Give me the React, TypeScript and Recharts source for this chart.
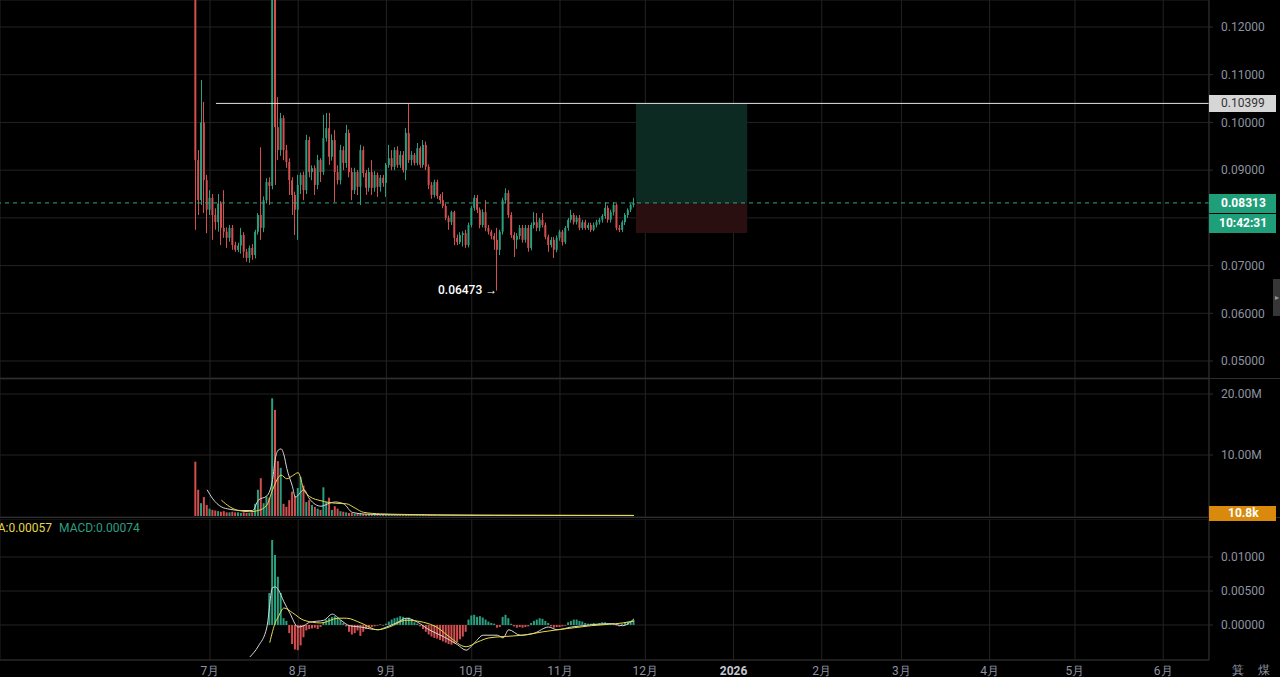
import { Bar, Cell, ComposedChart, CartesianGrid, Line, ReferenceArea, ReferenceLine, XAxis, YAxis } from "recharts";

// x axis: day index, 0 = 1 Jul 2025
const monthTicks = [0, 31, 62, 92, 123, 153, 184, 215, 243, 274, 304, 335];
const monthLabels = ["7月", "8月", "9月", "10月", "11月", "12月", "2026", "2月", "3月", "4月", "5月", "6月"];

const priceTicks = [0.05, 0.06, 0.07, 0.08, 0.09, 0.1, 0.11, 0.12];
const volumeTicks = [10e6, 20e6];
const macdTicks = [0, 0.005, 0.01];

// daily candles [open, high, low, close], first one on day -5 (26 Jun)
const firstDay = -5;
const candles = [
  [0.14, 0.15, 0.0775, 0.0921], [0.0921, 0.0942, 0.0806, 0.0837], [0.0837, 0.1089, 0.0827, 0.1], [0.1, 0.1043, 0.081, 0.0879], [0.0879, 0.089, 0.0768, 0.0817],
  [0.0817, 0.0858, 0.0806, 0.0842], [0.0842, 0.085, 0.0754, 0.0806], [0.0806, 0.082, 0.0775, 0.0791], [0.0791, 0.085, 0.0771, 0.083], [0.083, 0.0835, 0.0743, 0.0779],
  [0.0779, 0.0858, 0.0758, 0.0771], [0.0771, 0.078, 0.0737, 0.0758], [0.0758, 0.0785, 0.075, 0.0779], [0.0779, 0.0785, 0.0733, 0.0743], [0.0743, 0.075, 0.0729, 0.0733],
  [0.0733, 0.0748, 0.0728, 0.0742], [0.0742, 0.0779, 0.0725, 0.0764], [0.0764, 0.077, 0.0716, 0.0729], [0.0729, 0.0735, 0.0708, 0.0716], [0.0716, 0.0742, 0.0706, 0.0737], [0.0737, 0.0745, 0.0712, 0.0722],
  [0.0722, 0.0775, 0.0715, 0.0771], [0.0771, 0.081, 0.0765, 0.0806], [0.0806, 0.0948, 0.0754, 0.0779], [0.0779, 0.0845, 0.077, 0.0837], [0.0837, 0.0883, 0.083, 0.0875],
  [0.0875, 0.0885, 0.0827, 0.0867], [0.0867, 0.145, 0.086, 0.135], [0.132, 0.14, 0.0869, 0.099], [0.099, 0.1053, 0.0921, 0.0942], [0.0942, 0.102, 0.093, 0.1009],
  [0.1009, 0.1015, 0.0921, 0.0942], [0.0942, 0.0953, 0.0905, 0.0917], [0.0917, 0.0925, 0.0848, 0.0879], [0.0879, 0.0885, 0.0806, 0.0848], [0.0848, 0.0855, 0.0764, 0.0817],
  [0.0817, 0.089, 0.0754, 0.0869], [0.0869, 0.0895, 0.085, 0.089], [0.089, 0.0897, 0.0837, 0.0858], [0.0858, 0.0974, 0.085, 0.0963], [0.0963, 0.097, 0.0885, 0.0896],
  [0.0896, 0.091, 0.0879, 0.0904], [0.0904, 0.091, 0.0848, 0.0869], [0.0869, 0.0932, 0.086, 0.0921], [0.0921, 0.0925, 0.0875, 0.0896], [0.0896, 0.1016, 0.089, 0.0967],
  [0.0967, 0.102, 0.096, 0.0988], [0.0988, 0.102, 0.0911, 0.0928], [0.0928, 0.0975, 0.092, 0.0963], [0.0963, 0.0984, 0.0833, 0.0896], [0.0896, 0.091, 0.087, 0.0879],
  [0.0879, 0.0953, 0.087, 0.0942], [0.0942, 0.095, 0.09, 0.0915], [0.0915, 0.0995, 0.0905, 0.0978], [0.0978, 0.0985, 0.0885, 0.0896], [0.0896, 0.0905, 0.0837, 0.0858],
  [0.0858, 0.0905, 0.085, 0.0896], [0.0896, 0.09, 0.0848, 0.0865], [0.0865, 0.0953, 0.0827, 0.0942], [0.0942, 0.095, 0.0885, 0.0894], [0.0894, 0.09, 0.0848, 0.0863],
  [0.0863, 0.0905, 0.0855, 0.0896], [0.0896, 0.0921, 0.0848, 0.0863], [0.0863, 0.0898, 0.0855, 0.089], [0.089, 0.0895, 0.0844, 0.0865], [0.0865, 0.089, 0.0855, 0.0884],
  [0.0884, 0.089, 0.0865, 0.0873], [0.0873, 0.0915, 0.0844, 0.0911], [0.0911, 0.0953, 0.0905, 0.0925], [0.0925, 0.0942, 0.09, 0.0907], [0.0907, 0.0948, 0.09, 0.0942],
  [0.0942, 0.095, 0.0905, 0.0911], [0.0911, 0.094, 0.0905, 0.0932], [0.0932, 0.094, 0.0895, 0.09], [0.09, 0.0988, 0.0879, 0.0978], [0.0978, 0.10399, 0.0915, 0.0921],
  [0.0921, 0.094, 0.091, 0.0932], [0.0932, 0.0936, 0.091, 0.0915], [0.0915, 0.0957, 0.091, 0.0946], [0.0946, 0.095, 0.0905, 0.0911], [0.0911, 0.0963, 0.0905, 0.0953],
  [0.0953, 0.096, 0.09, 0.0907], [0.0907, 0.0912, 0.086, 0.0869], [0.0869, 0.0875, 0.084, 0.0848], [0.0848, 0.088, 0.0843, 0.0875], [0.0875, 0.088, 0.084, 0.0846],
  [0.0846, 0.085, 0.083, 0.0837], [0.0837, 0.0854, 0.082, 0.0825], [0.0825, 0.083, 0.0795, 0.08], [0.08, 0.0805, 0.0775, 0.0791], [0.0791, 0.0815, 0.0785, 0.0812],
  [0.0812, 0.0815, 0.0743, 0.0758], [0.0758, 0.0765, 0.0743, 0.0749], [0.0749, 0.077, 0.0745, 0.0764], [0.0764, 0.0772, 0.074, 0.0768],
  [0.0768, 0.0775, 0.0737, 0.0743], [0.0743, 0.079, 0.0738, 0.0785], [0.0785, 0.0825, 0.078, 0.0821], [0.0821, 0.0848, 0.0815, 0.0842], [0.0842, 0.0848, 0.081, 0.0817],
  [0.0817, 0.0822, 0.0778, 0.0785], [0.0785, 0.0818, 0.078, 0.0812], [0.0812, 0.0837, 0.0772, 0.0779], [0.0779, 0.0785, 0.0765, 0.0771], [0.0771, 0.0775, 0.0755, 0.0762],
  [0.0762, 0.0768, 0.0733, 0.0754], [0.0754, 0.0779, 0.06473, 0.0733], [0.0733, 0.0775, 0.0722, 0.0771], [0.0771, 0.0842, 0.0765, 0.0837], [0.0837, 0.0862, 0.083, 0.0852],
  [0.0852, 0.0858, 0.08, 0.0806], [0.0806, 0.0812, 0.0758, 0.0764], [0.0764, 0.077, 0.0718, 0.0754], [0.0754, 0.0768, 0.0735, 0.0762], [0.0762, 0.0785, 0.0755, 0.0779],
  [0.0779, 0.0785, 0.0748, 0.0754], [0.0754, 0.0785, 0.0748, 0.0779], [0.0779, 0.0785, 0.0729, 0.0737], [0.0737, 0.079, 0.0732, 0.0785], [0.0785, 0.0812, 0.0778, 0.0791],
  [0.0791, 0.081, 0.0772, 0.0779], [0.0779, 0.08, 0.0772, 0.0796], [0.0796, 0.081, 0.078, 0.0785], [0.0785, 0.079, 0.0755, 0.076], [0.076, 0.0765, 0.0729, 0.0743],
  [0.0743, 0.076, 0.0738, 0.0754], [0.0754, 0.076, 0.0716, 0.0733], [0.0733, 0.0763, 0.0728, 0.0758], [0.0758, 0.0775, 0.0752, 0.0771], [0.0771, 0.0775, 0.0742, 0.0749],
  [0.0749, 0.0783, 0.0745, 0.0779], [0.0779, 0.08, 0.0773, 0.0796], [0.0796, 0.0817, 0.079, 0.0806], [0.0806, 0.081, 0.0786, 0.0791], [0.0791, 0.0805, 0.0786, 0.08],
  [0.08, 0.0806, 0.0774, 0.0779], [0.0779, 0.0796, 0.0775, 0.0791], [0.0791, 0.0796, 0.0775, 0.0779], [0.0779, 0.079, 0.0775, 0.0785], [0.0785, 0.079, 0.077, 0.0775],
  [0.0775, 0.079, 0.0772, 0.0785], [0.0785, 0.0796, 0.078, 0.0791], [0.0791, 0.08, 0.0786, 0.0796], [0.0796, 0.0808, 0.079, 0.0804], [0.0804, 0.0833, 0.0798, 0.0821],
  [0.0821, 0.0826, 0.079, 0.0796], [0.0796, 0.0817, 0.079, 0.0812], [0.0812, 0.0833, 0.0805, 0.0827], [0.0827, 0.083, 0.0774, 0.0779], [0.0779, 0.0785, 0.077, 0.0775],
  [0.0775, 0.0795, 0.077, 0.0791], [0.0791, 0.081, 0.0785, 0.0806], [0.0806, 0.082, 0.08, 0.0817], [0.0817, 0.083, 0.0812, 0.0827], [0.0827, 0.0842, 0.0822, 0.08313],
];

// volume per day, millions
const volumes = [
  8.9, 4.3, 2.1, 3.1, 1.8, 1.2, 1.0, 0.9, 0.8, 0.7,
  0.8, 0.6, 0.6, 0.7, 0.6, 0.6, 0.5, 0.6, 0.5, 0.5, 0.6,
  2.0, 4.3, 6.2, 2.1, 3.2, 3.0, 19.3, 17.4, 9.0, 7.9,
  2.0, 1.5, 2.6, 4.0, 3.3, 4.6, 6.4, 5.0, 2.3, 2.6,
  1.8, 1.5, 1.2, 1.0, 4.7, 2.3, 3.0, 1.0, 1.6, 1.2,
  0.8, 0.7, 0.6, 0.5, 0.5, 0.4, 0.4, 0.5, 0.3, 0.3,
  0.3, 0.25, 0.25, 0.2, 0.2, 0.2, 0.18, 0.22, 0.15, 0.18,
  0.16, 0.15, 0.14, 0.2, 0.25, 0.14, 0.12, 0.13, 0.12, 0.14,
  0.12, 0.15, 0.13, 0.11, 0.1, 0.1, 0.09, 0.12, 0.11, 0.09,
  0.13, 0.1, 0.08, 0.08, 0.1, 0.12, 0.11, 0.1, 0.08,
  0.09, 0.08, 0.1, 0.07, 0.07, 0.08, 0.15, 0.1, 0.12, 0.09,
  0.08, 0.07, 0.09, 0.06, 0.06, 0.07, 0.06, 0.07, 0.06, 0.07,
  0.05, 0.06, 0.05, 0.06, 0.07, 0.05, 0.06, 0.05, 0.05, 0.04,
  0.05, 0.06, 0.05, 0.04, 0.04, 0.05, 0.04, 0.04, 0.03, 0.04,
  0.03, 0.04, 0.03, 0.03, 0.05, 0.04, 0.03, 0.04, 0.04, 0.03,
  0.03, 0.04, 0.03, 0.03, 0.0108,
];

// volume moving averages, [day, millions]
const volFastPts = [
  [-1, 4.3], [1, 2.8], [4, 1.5], [7, 1.1], [11, 0.9], [15, 0.9], [17, 2.6], [20, 3.3], [22, 6.0], [23, 9.5],
  [24, 10.8], [25, 11.0], [26, 10.0], [27, 7.8], [29, 4.8], [30, 3.1], [33, 4.3], [35, 2.8], [39, 1.6], [42, 2.1],
  [44, 2.3], [47, 2.0], [50, 0.6], [55, 0.3], [65, 0.2], [80, 0.15], [100, 0.1], [149, 0.07],
];
const volSlowPts = [
  [4, 2.6], [7, 1.5], [10, 0.9], [14, 0.7], [17, 0.9], [20, 1.8], [22, 4.3], [25, 6.7], [27, 6.1], [29, 6.6],
  [31, 7.1], [33, 4.3], [35, 3.2], [39, 2.5], [44, 2.1], [48, 2.0], [51, 1.3], [54, 0.6], [60, 0.35], [70, 0.25],
  [90, 0.15], [149, 0.1],
];

// MACD histogram per day from day 21
const histStart = 21;
const macdHist = [
  0.0047, 0.0125, 0.0103, 0.0071, 0.0047, 0.001, 0.0006, -0.0012, -0.0028, -0.0036,
  -0.0037, -0.003, -0.0018, -0.0008, -0.0006, -0.0005, -0.0004, -0.0006, -0.0003, 0.0004,
  0.0008, 0.001, 0.0012, 0.0013, 0.0011, 0.0007, 0.0003, -0.0002, -0.001, -0.0014,
  -0.0012, -0.0008, -0.0016, -0.001, -0.0006, -0.0004, -0.0003, -0.0002, -0.0001, 0.0001,
  -0.0001, 0.0002, 0.0005, 0.0008, 0.001, 0.0011, 0.0013, 0.0012, 0.001, 0.0011,
  0.0008, 0.0004, 0.0002, -0.0002, -0.0006, -0.001, -0.0014, -0.0017, -0.0019, -0.002,
  -0.0022, -0.0024, -0.0026, -0.0028, -0.0029, -0.0027, -0.0025, -0.0021, -0.0017,
  -0.001, 0.0008, 0.0014, 0.0015, 0.0012, 0.0013, 0.0011, 0.0008, 0.0005, 0.0003,
  0.0002, -0.0004, -0.0003, 0.0012, 0.0015, 0.001, 0.0002, -0.0002, -0.0004, -0.0003,
  -0.0004, -0.0003, -0.0002, 0.0003, 0.0006, 0.0008, 0.001, 0.0009, 0.0006, 0.0003,
  -0.0002, -0.0004, -0.0003, -0.0003, -0.0002, -0.0001, 0.0004, 0.0006, 0.0008, 0.0008,
  0.0006, 0.0005, 0.0003, 0.0002, 0.0002, 0.0003, 0.0002, 0.0003, 0.0004, 0.0004,
  0.0002, 0.0001, 0.0002, -0.0001, -0.0002, 0.0002, 0.0004, 0.0005, 0.0006, 0.00074,
];

const difPts = [
  [14, -0.0047], [17, -0.0031], [20, -0.0003], [22, 0.0055], [23, 0.0056], [24, 0.0052], [26, 0.0034], [28, 0.0018], [31, -0.0003], [33, -0.0001],
  [35, 0.0004], [40, 0.0007], [43, 0.0016], [46, 0.0007], [49, -0.0001], [53, -0.0003], [59, -0.0007], [62, -0.0003], [66, 0.0004], [69, 0.001],
  [73, 0.0004], [77, -0.0007], [82, -0.0017], [87, -0.0029], [90, -0.0037], [93, -0.0026], [96, -0.0015], [101, -0.0015], [103, -0.0019], [105, -0.0007],
  [109, -0.0015], [114, -0.0012], [119, -0.0003], [122, -0.0007], [127, -0.0003], [131, -0.0001], [141, 0.0002], [145, -0.0001], [149, 0.0009],
];
const deaPts = [
  [21, -0.0026], [23, 0.0004], [24, 0.0012], [26, 0.0025], [29, 0.0018], [33, 0.0007], [39, 0.0003], [45, 0.001], [48, 0.001], [53, 0.0003],
  [59, -0.0007], [63, -0.0003], [69, 0.0007], [75, 0.0004], [80, -0.0004], [84, -0.0017], [90, -0.0032], [94, -0.0025], [98, -0.0019], [103, -0.0017],
  [110, -0.0015], [117, -0.001], [128, -0.0004], [134, -0.0001], [140, 0.0001], [145, 0.0003], [149, 0.00057],
];

const UP = "#2a9e7e";
const DOWN = "#d34f4f";
const GRID = "#232323";
const AXIS = "#8d92a0";
const X_MIN = -73.8;
const X_MAX = 351.1;

const rows: any[] = candles.map(([o, h, l, c], i) => {
  const d = firstDay + i;
  return {
    d, o, h, l, c,
    range: [l, h],
    vol: volumes[i] * 1e6,
    hist: d >= histStart ? macdHist[d - histStart] : null,
  };
});
const putPoints = (pts: number[][], key: string, scale: number) => {
  pts.forEach(([d, v]) => {
    rows[d - firstDay][key] = v * scale;
  });
};
putPoints(volFastPts, "volFast", 1e6);
putPoints(volSlowPts, "volSlow", 1e6);
putPoints(difPts, "dif", 1);
putPoints(deaPts, "dea", 1);

const Candle = (props: any) => {
  const { x, y, width, height, payload } = props;
  if (!payload || payload.o == null) return null;
  const { o, h, l, c } = payload;
  const top = Math.min(y, y + height);
  const span = Math.abs(height);
  const toY = (v: number) => top + ((h - v) / (h - l)) * span;
  const color = c >= o ? UP : DOWN;
  const bodyTop = toY(Math.max(o, c));
  const bodyBot = toY(Math.min(o, c));
  const cx = Math.round(x + width / 2 - 0.5);
  return (
    <g>
      <rect x={cx} y={top} width={1} height={span} fill={color} />
      <rect x={x} y={bodyTop} width={width} height={Math.max(1, bodyBot - bodyTop)} fill={color} />
    </g>
  );
};

const MonthTick = ({ x, y, payload }: any) => {
  const label = monthLabels[monthTicks.indexOf(payload.value)];
  const isYear = label === "2026";
  return (
    <text x={x} y={y} dy={15} textAnchor="middle" fontSize={12} fill={isYear ? "#c5c8d2" : AXIS} fontWeight={isYear ? 700 : 400}>
      {label}
    </text>
  );
};

const yAxisCommon = {
  orientation: "right" as const,
  width: 71,
  allowDataOverflow: true,
  tickSize: 4,
  tickMargin: 8,
  axisLine: { stroke: "#2c2c2c" },
  tickLine: { stroke: "#2c2c2c" },
  tick: { fill: AXIS, fontSize: 12 },
};

const boxStyle = (top: number, height: number, bg: string, color: string, left = 1221, bold = false) => ({
  position: "absolute" as const,
  top,
  left: 1209,
  width: 67,
  height,
  background: bg,
  color,
  fontSize: 12,
  fontWeight: bold ? 700 : 400,
  lineHeight: `${height}px`,
  paddingLeft: left - 1209,
  boxSizing: "border-box" as const,
});

const App = () => {
  return (
    <div style={{ position: "absolute", top: 0, left: 0, width: 1280, height: 677, background: "#000", overflow: "hidden", fontFamily: "Roboto, sans-serif" }}>
      {/* price pane */}
      <div style={{ position: "absolute", top: 0, left: 0 }}>
        <ComposedChart width={1280} height={378} data={rows} margin={{ top: 0, right: 0, bottom: 0, left: 0 }}>
          <CartesianGrid stroke={GRID} />
          <XAxis type="number" dataKey="d" domain={[X_MIN, X_MAX]} ticks={monthTicks} allowDataOverflow hide />
          <YAxis
            {...yAxisCommon}
            domain={[0.046437, 0.125659]}
            ticks={priceTicks}
            tickFormatter={(v: number) => (v === 0.08 ? "" : v.toFixed(5))}
          />
          <ReferenceArea x1={149.7} x2={188.8} y1={0.08313} y2={0.10399} fill="#0d2a22" fillOpacity={1} stroke="none" />
          <ReferenceArea x1={149.7} x2={188.8} y1={0.07683} y2={0.08313} fill="#2a0f11" fillOpacity={1} stroke="none" />
          <ReferenceLine y={0.08313} stroke="#32a385" strokeDasharray="4 4" />
          <ReferenceLine segment={[{ x: 2.1, y: 0.10399 }, { x: X_MAX, y: 0.10399 }]} stroke="#e4e4e4" />
          <Bar dataKey="range" barSize={2} shape={(p: any) => <Candle {...p} />} isAnimationActive={false} />
        </ComposedChart>
      </div>

      {/* volume pane */}
      <div style={{ position: "absolute", top: 379, left: 0 }}>
        <ComposedChart width={1280} height={138} data={rows} margin={{ top: 0, right: 0, bottom: 0, left: 0 }}>
          <CartesianGrid stroke={GRID} />
          <XAxis type="number" dataKey="d" domain={[X_MIN, X_MAX]} ticks={monthTicks} allowDataOverflow hide />
          <YAxis {...yAxisCommon} domain={[-163934, 22459016]} ticks={volumeTicks} tickFormatter={(v: number) => `${(v / 1e6).toFixed(2)}M`} />
          <Bar dataKey="vol" barSize={2} isAnimationActive={false}>
            {rows.map((r, i) => (
              <Cell key={i} fill={r.c >= r.o ? UP : DOWN} />
            ))}
          </Bar>
          <Line dataKey="volFast" type="monotone" stroke="#d6d6d6" strokeWidth={1} dot={false} connectNulls isAnimationActive={false} />
          <Line dataKey="volSlow" type="monotone" stroke="#e6d84a" strokeWidth={1} dot={false} connectNulls isAnimationActive={false} />
        </ComposedChart>
      </div>

      {/* MACD pane + time axis */}
      <div style={{ position: "absolute", top: 519, left: 0 }}>
        <ComposedChart width={1280} height={158} data={rows} margin={{ top: 0, right: 0, bottom: 0, left: 0 }}>
          <CartesianGrid stroke={GRID} />
          <XAxis
            type="number"
            dataKey="d"
            domain={[X_MIN, X_MAX]}
            ticks={monthTicks}
            allowDataOverflow
            height={17}
            tickSize={0}
            tickMargin={0}
            tickLine={false}
            axisLine={{ stroke: "#2c2c2c" }}
            tick={<MonthTick />}
          />
          <YAxis {...yAxisCommon} domain={[-0.005147, 0.015588]} ticks={macdTicks} tickFormatter={(v: number) => v.toFixed(5)} />
          <Bar dataKey="hist" barSize={2} isAnimationActive={false}>
            {rows.map((r, i) => (
              <Cell key={i} fill={r.hist != null && r.hist < 0 ? DOWN : UP} />
            ))}
          </Bar>
          <Line dataKey="dif" type="monotone" stroke="#d8d8d8" strokeWidth={1} dot={false} connectNulls isAnimationActive={false} />
          <Line dataKey="dea" type="monotone" stroke="#e6dc4c" strokeWidth={1} dot={false} connectNulls isAnimationActive={false} />
        </ComposedChart>
      </div>

      {/* pane separators */}
      <div style={{ position: "absolute", top: 378, left: 0, width: 1280, height: 1, background: "#2e2e2e" }} />
      <div style={{ position: "absolute", top: 517, left: 0, width: 1280, height: 1, background: "#2e2e2e" }} />

      {/* legend of MACD pane */}
      <div style={{ position: "absolute", top: 520, left: -17, fontSize: 12, lineHeight: "16px", whiteSpace: "nowrap" }}>
        <span style={{ color: "#e3d64c" }}>DEA:0.00057</span>
        <span style={{ color: "#2d9f80", marginLeft: 7 }}>MACD:0.00074</span>
      </div>

      {/* price labels on the axis */}
      <div style={boxStyle(95, 17, "#d6d6d6", "#333")}>0.10399</div>
      <div style={boxStyle(194, 19, "#1f9f79", "#fff", 1221, true)}>0.08313</div>
      <div style={boxStyle(214, 19, "#1f9f79", "#fff", 1219, true)}>10:42:31</div>
      <div style={boxStyle(506, 15, "#d98a0c", "#fff", 1228, true)}>10.8k</div>

      {/* low marker */}
      <div style={{ position: "absolute", top: 282, left: 438, fontSize: 12, fontWeight: 500, color: "#fff", lineHeight: "16px", whiteSpace: "nowrap" }}>
        0.06473 →
      </div>

      {/* side tab */}
      <div style={{ position: "absolute", top: 279, left: 1273, width: 7, height: 37, background: "#363636", color: "#9a9a9a", fontSize: 8, lineHeight: "37px", textAlign: "center" }}>
        ▸
      </div>

      {/* corner icons */}
      <div style={{ position: "absolute", top: 662, left: 1232, fontSize: 12, color: AXIS, lineHeight: "17px", whiteSpace: "nowrap" }}>
        箕<span style={{ marginLeft: 14 }}>煤</span>
      </div>
    </div>
  );
};

export default App;
